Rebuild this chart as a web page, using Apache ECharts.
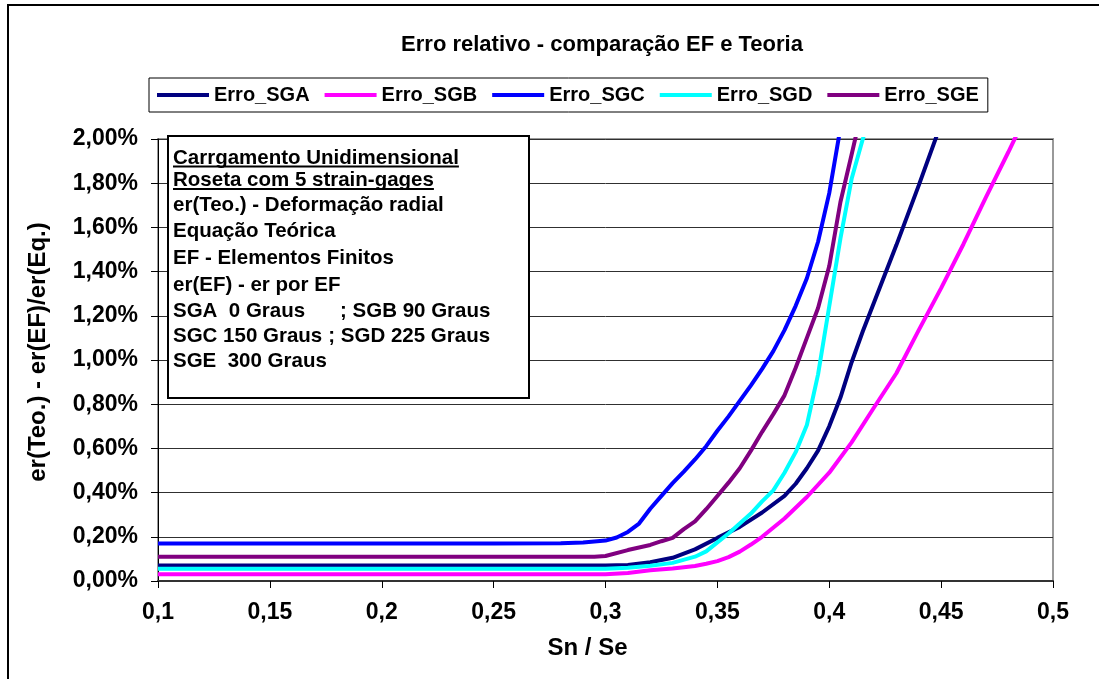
<!DOCTYPE html>
<html><head><meta charset="utf-8">
<script src="https://cdn.jsdelivr.net/npm/echarts@6/dist/echarts.min.js"></script>
<style>html,body{margin:0;padding:0;background:#fff}#c{width:1099px;height:679px}</style>
</head><body><div id="c"></div>
<script>
// ---- data (y values in percent) ----
const seriesNames = ['Erro_SGA', 'Erro_SGB', 'Erro_SGC', 'Erro_SGD', 'Erro_SGE'];
const seriesColors = ['#000080', '#FF00FF', '#0000FF', '#00FFFF', '#800080'];
const sgaData = [[0.1,0.07],[0.15,0.07],[0.2,0.07],[0.25,0.07],[0.3,0.07],[0.31,0.072],[0.32,0.085],[0.33,0.105],[0.34,0.143],[0.35,0.195],[0.36,0.245],[0.37,0.31],[0.38,0.385],[0.385,0.44],[0.39,0.51],[0.395,0.59],[0.4,0.70],[0.405,0.83],[0.41,0.99],[0.415,1.13],[0.42,1.26],[0.43,1.52],[0.44,1.79],[0.45,2.07]];
const sgbData = [[0.1,0.03],[0.15,0.03],[0.2,0.03],[0.25,0.03],[0.3,0.03],[0.31,0.036],[0.32,0.049],[0.33,0.057],[0.34,0.068],[0.345,0.078],[0.35,0.09],[0.355,0.108],[0.36,0.133],[0.365,0.165],[0.37,0.20],[0.38,0.283],[0.39,0.38],[0.4,0.49],[0.41,0.627],[0.42,0.785],[0.43,0.94],[0.44,1.135],[0.45,1.325],[0.46,1.525],[0.47,1.736],[0.48,1.94],[0.49,2.15]];
const sgcData = [[0.1,0.17],[0.15,0.17],[0.2,0.17],[0.25,0.17],[0.28,0.171],[0.29,0.174],[0.3,0.183],[0.305,0.197],[0.31,0.222],[0.315,0.26],[0.32,0.327],[0.325,0.385],[0.33,0.443],[0.335,0.495],[0.34,0.55],[0.345,0.61],[0.35,0.68],[0.355,0.745],[0.36,0.815],[0.365,0.885],[0.37,0.96],[0.375,1.04],[0.38,1.135],[0.385,1.245],[0.39,1.37],[0.395,1.535],[0.4,1.755],[0.405,2.05]];
const sgdData = [[0.1,0.055],[0.15,0.055],[0.2,0.055],[0.25,0.055],[0.3,0.055],[0.31,0.06],[0.32,0.069],[0.33,0.082],[0.34,0.11],[0.345,0.134],[0.35,0.175],[0.355,0.215],[0.36,0.26],[0.365,0.305],[0.37,0.36],[0.375,0.41],[0.38,0.49],[0.385,0.583],[0.39,0.706],[0.395,0.935],[0.4,1.243],[0.405,1.55],[0.41,1.82],[0.415,2.0],[0.42,2.17]];
const sgeData = [[0.1,0.11],[0.15,0.11],[0.2,0.11],[0.25,0.11],[0.295,0.11],[0.3,0.113],[0.31,0.14],[0.32,0.163],[0.325,0.18],[0.33,0.195],[0.335,0.235],[0.34,0.27],[0.345,0.325],[0.35,0.385],[0.355,0.445],[0.36,0.51],[0.365,0.59],[0.37,0.675],[0.375,0.755],[0.38,0.84],[0.385,0.965],[0.39,1.10],[0.395,1.235],[0.4,1.425],[0.405,1.715],[0.41,1.93],[0.415,2.15]];
const allData = [sgaData, sgbData, sgcData, sgdData, sgeData];

const xTickValues = [0.1, 0.15, 0.2, 0.25, 0.3, 0.35, 0.4, 0.45, 0.5];
const yTickValues = [0, 0.2, 0.4, 0.6, 0.8, 1.0, 1.2, 1.4, 1.6, 1.8, 2.0];

const titleText = 'Erro relativo - comparação EF e Teoria';
const xName = 'Sn / Se';
const yName = 'er(Teo.) - er(EF)/er(Eq.)';
const noteLines = [
  ['Carrgamento Unidimensional', ''],
  ['Roseta com 5 strain-gages', ''],
  ['er(Teo.) - Deformação radial', ''],
  ['Equação Teórica', ''],
  ['EF - Elementos Finitos', ''],
  ['er(EF) - er por EF', ''],
  ['SGA  0 Graus', '; SGB 90 Graus'],
  ['SGC 150 Graus', '; SGD 225 Graus'],
  ['SGE  300 Graus', '']
];
const underlinedLines = [0, 1];

// ---- rendering ----
const FF = "'Liberation Sans', Arial, Helvetica, sans-serif";
const chart = echarts.init(document.getElementById('c'));

const ctx = document.createElement('canvas').getContext('2d');
const noteFont = 20.5;
const noteFontStr = 'bold ' + noteFont + 'px ' + FF;
ctx.font = noteFontStr;

const fmtX = v => String(parseFloat(v.toFixed(3))).replace('.', ',');
const fmtY = v => v.toFixed(2).replace('.', ',') + '%';

const graphics = [];
// outer chart border
graphics.push({type:'rect', shape:{x:8, y:5, width:1200, height:800},
  style:{fill:null, stroke:'#000', lineWidth:2}, silent:true, z:100});
// note box
const boxX = 168, boxY = 136, boxW = 361, boxH = 262;
graphics.push({type:'rect', shape:{x:boxX, y:boxY, width:boxW, height:boxH},
  style:{fill:'#fff', stroke:'#000', lineWidth:2}, z:50});
const textX = 173;
const lineCenters = [158, 180.5, 205, 231.5, 258, 285, 311.5, 336, 361];
const col2RefX = [0, 0, 0, 0, 0, 0, 340, 320, 0];
noteLines.forEach((ln, i) => {
  const cy = lineCenters[i];
  graphics.push({type:'text', x:textX, y:cy, z:51,
    style:{text:ln[0], fill:'#000', font:noteFontStr, textAlign:'left', verticalAlign:'middle', textVerticalAlign:'middle'}});
  const w = ctx.measureText(ln[0]).width;
  if (ln[1]) {
    const x2 = Math.max(col2RefX[i], textX + w + 6);
    graphics.push({type:'text', x:x2, y:cy, z:51,
      style:{text:ln[1], fill:'#000', font:noteFontStr, textAlign:'left', verticalAlign:'middle', textVerticalAlign:'middle'}});
  }
  if (underlinedLines.indexOf(i) >= 0) {
    graphics.push({type:'line', z:51, shape:{x1:textX, y1:cy + 8.5, x2:textX + w, y2:cy + 8.5},
      style:{stroke:'#000', lineWidth:2}});
  }
});

const option = {
  backgroundColor: '#fff',
  animation: false,
  title: {
    text: titleText, left: 597, top: 29, textAlign: 'center',
    textStyle: {fontFamily: FF, fontWeight: 'bold', fontSize: 22, color: '#000'}
  },
  legend: {
    data: seriesNames, left: 149, top: 78, orient: 'horizontal',
    padding: [7, 9, 7, 8], borderColor: '#000', borderWidth: 1, backgroundColor: '#fff',
    itemWidth: 52, itemHeight: 4, itemGap: 15, icon: 'rect',
    textStyle: {fontFamily: FF, fontWeight: 'bold', fontSize: 20, color: '#000'}
  },
  grid: {left: 158, right: 46, top: 139, bottom: 98, show: true, borderColor: '#999', borderWidth: 2,
    backgroundColor: '#fff', containLabel: false, outerBoundsMode: 'none'},
  xAxis: {
    type: 'value', min: 0.1, max: 0.5, interval: 0.05,
    name: xName, nameLocation: 'middle', nameGap: 55,
    nameTextStyle: {fontFamily: FF, fontWeight: 'bold', fontSize: 24, color: '#000', padding: [0, 36, 0, 0]},
    axisLine: {show: true, onZero: false, lineStyle: {color: '#333', width: 2}},
    axisTick: {show: true, inside: false, length: 7, lineStyle: {color: '#000', width: 1}},
    axisLabel: {margin: 20, formatter: v => fmtX(v), fontFamily: FF, fontWeight: 'bold', fontSize: 23, color: '#000', showMinLabel: true, showMaxLabel: true},
    splitLine: {show: false}
  },
  yAxis: {
    type: 'value', min: 0, max: 2, interval: 0.2,
    name: yName, nameLocation: 'middle', nameGap: 108, nameRotate: 90,
    nameTextStyle: {fontFamily: FF, fontWeight: 'bold', fontSize: 24, color: '#000', padding: [0, 0, 0, 16]},
    axisLine: {show: true, onZero: false, lineStyle: {color: '#000', width: 1}},
    axisTick: {show: true, inside: false, length: 7, lineStyle: {color: '#000', width: 1}},
    axisLabel: {margin: 20, formatter: v => fmtY(v), fontFamily: FF, fontWeight: 'bold', fontSize: 23, color: '#000', showMinLabel: true, showMaxLabel: true},
    splitLine: {show: true, lineStyle: {color: '#303030', width: 1}}
  },
  series: seriesNames.map((n, i) => ({
    name: n, type: 'line', data: allData[i], symbol: 'none', showSymbol: false,
    smooth: false, clip: true, color: seriesColors[i],
    lineStyle: {color: seriesColors[i], width: 4}, itemStyle: {color: seriesColors[i]},
    emphasis: {disabled: true}, z: 2 + i
  })),
  graphic: graphics
};
chart.setOption(option);
</script>
</body></html>
